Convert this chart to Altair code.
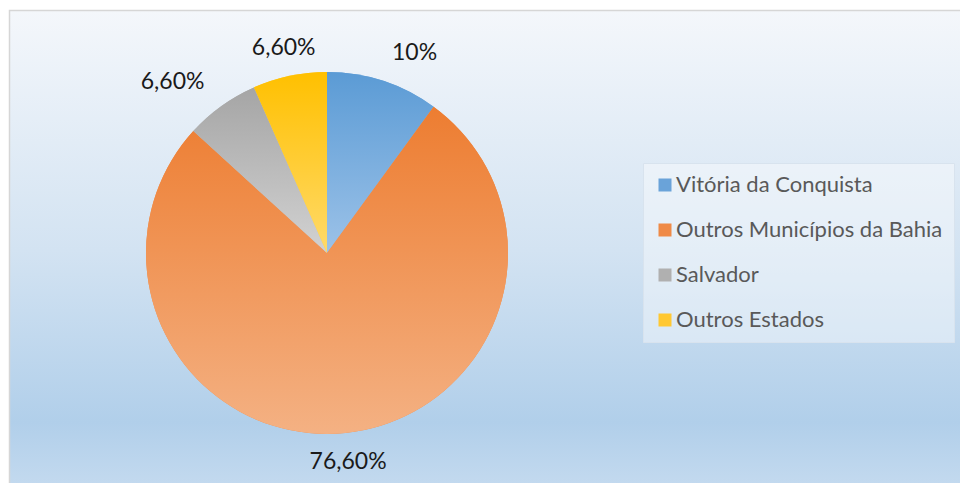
import altair as alt
import pandas as pd

categories = ["Vitória da Conquista", "Outros Municípios da Bahia", "Salvador", "Outros Estados"]
values = [10.0, 76.6, 6.6, 6.6]
labels = ["10%", "76,60%", "6,60%", "6,60%"]
colors_top = ["#5b9bd5", "#ed7d31", "#a5a5a5", "#ffc000"]
colors_bottom = ["#9cc2e8", "#f4b183", "#d2d2d2", "#ffda6a"]
legend_colors = ["#6aa3d9", "#ef8a47", "#b0b0b0", "#ffc832"]

df = pd.DataFrame({"cat": categories, "value": values, "label": labels})
df["end"] = df["value"].cumsum()
df["start"] = df["end"] - df["value"]
total = float(df["value"].sum())

W, H = 952, 475
CX, CY, R = 319, 245, 181
FONT = "Lato"

theta_scale = alt.Scale(domain=[0, total])

bg = alt.Chart(pd.DataFrame({"k": [0]})).mark_rect(
    fill=alt.Gradient(
        gradient="linear", x1=0, y1=0, x2=0, y2=1,
        stops=[
            alt.GradientStop(color="#f4f7fb", offset=0),
            alt.GradientStop(color="#d3e3f2", offset=0.5),
            alt.GradientStop(color="#b1cfea", offset=0.86),
            alt.GradientStop(color="#c4daef", offset=1),
        ],
    ),
    stroke="#d6d6d6",
    strokeWidth=1.5,
).encode(x=alt.value(1.5), x2=alt.value(W + 5), y=alt.value(2.5), y2=alt.value(H + 6))

base = alt.Chart(df).encode(
    theta=alt.Theta("start:Q", scale=theta_scale),
    theta2="end:Q",
    x=alt.value(CX),
    y=alt.value(CY),
)

legend_layer = base.mark_arc(outerRadius=R).encode(
    color=alt.Color(
        "cat:N",
        scale=alt.Scale(domain=categories, range=legend_colors),
        legend=alt.Legend(
            title=None,
            orient="none",
            legendX=635,
            legendY=155,
            direction="vertical",
            symbolType="square",
            symbolSize=169,
            symbolStrokeWidth=0,
            labelFont=FONT,
            labelFontSize=22,
            labelColor="#595959",
            labelLimit=400,
            rowPadding=23,
            padding=11,
            labelOffset=0,
            fillColor="rgba(255,255,255,0.4)",
            strokeColor="#d8e3ee",
        ),
    )
)

grad_layers = []
for c, ct, cb in zip(categories, colors_top, colors_bottom):
    grad_layers.append(
        base.transform_filter(alt.datum.cat == c).mark_arc(
            outerRadius=R,
            fill=alt.Gradient(
                gradient="linear", x1=0, y1=0, x2=0, y2=1,
                stops=[alt.GradientStop(color=ct, offset=0), alt.GradientStop(color=cb, offset=1)],
            ),
            strokeWidth=0,
        )
    )

text_base = alt.Chart(df).transform_calculate(
    mid="(datum.start + datum.end) / 2",
    s=f"sin(2 * PI * ((datum.start + datum.end) / 2) / {total})",
).encode(
    theta=alt.Theta("mid:Q", scale=theta_scale),
    x=alt.value(CX),
    y=alt.value(CY),
    text="label:N",
)

text_layers = []
for cond, align in [("datum.s > 0.3", "left"), ("datum.s < -0.3", "right"), ("abs(datum.s) <= 0.3", "center")]:
    text_layers.append(
        text_base.transform_filter(cond).mark_text(
            align=align, baseline="middle", radius=210, fontSize=23, font=FONT, color="#1a1a1a"
        )
    )

chart = alt.layer(bg, legend_layer, *grad_layers, *text_layers).properties(
    width=W, height=H, padding=0, autosize=alt.AutoSizeParams(type="none")
).configure_view(strokeWidth=0)

chart.save("out.html", embed_options={"renderer": "svg", "actions": False})
